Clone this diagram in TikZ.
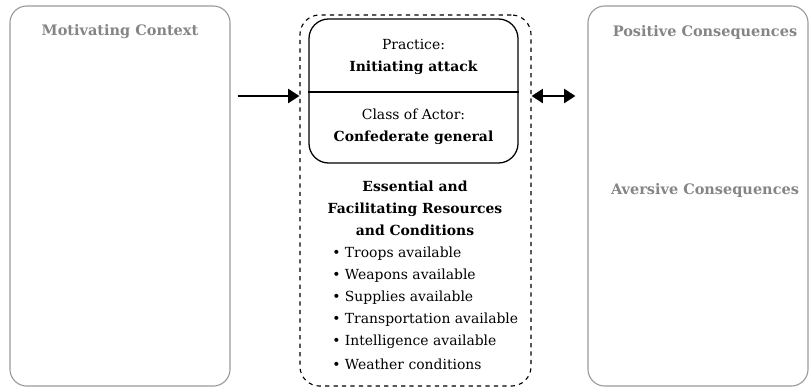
\documentclass[tikz,border=0pt]{standalone}
\usepackage{fontspec}
\setmainfont{DejaVu Serif}
\usepackage{xcolor}
\usetikzlibrary{arrows.meta,calc}
\definecolor{boxgray}{HTML}{9A9A9A}
\definecolor{titlegray}{HTML}{858585}
\tikzset{
  sidebox/.style={draw=boxgray, line width=0.8pt, rounded corners=12pt, minimum width=5.5cm, minimum height=9.5cm},
  sidetitle/.style={text=titlegray, font=\fontsize{10.3}{12}\selectfont\bfseries},
  flow/.style={line width=1.4pt, -{Triangle[length=8pt,width=10pt]}},
  both/.style={line width=1.4pt, {Triangle[length=8pt,width=10pt]}-{Triangle[length=8pt,width=10pt]}},
  body/.style={font=\fontsize{9.9}{15.6}\selectfont}
}
\begin{document}
\begin{tikzpicture}[x=0.025cm, y=-0.025cm]
\useasboundingbox (0,0) rectangle (811,391);
% side boxes
\node[sidebox] (context) at (120,196) {};
\node[sidebox] (conseq) at (698,196) {};
\node[sidetitle] (ctxtitle) at (120,32) {Motivating Context};
\node[sidetitle] (postitle) at (705,32) {Positive Consequences};
\node[sidetitle] (avetitle) at (705,190) {Aversive Consequences};
% middle frame
\node[draw, dashed, line width=0.8pt, rounded corners=14pt, minimum width=5.775cm, minimum height=9.275cm] (frame) at (415.5,200.5) {};
\node[draw, line width=0.9pt, rounded corners=14pt, minimum width=5.225cm, minimum height=3.6cm] (actor) at (413.5,91) {};
\coordinate (split) at (0,92);
\draw[line width=0.9pt] (actor.west |- split) -- (actor.east |- split);
\node[body, align=center] (practice) at (413.5,57) {Practice:\\\textbf{Initiating attack}};
\node[body, align=center] (classact) at (413.5,127) {Class of Actor:\\\textbf{Confederate general}};
\node[body, align=center, font=\fontsize{9.9}{15.6}\selectfont\bfseries] (resources) at (415,208) {Essential and\\Facilitating Resources\\and Conditions};
\foreach \item [count=\i] in {Troops available, Weapons available, Supplies available, Transportation available, Intelligence available, Weather conditions}
  \node[body, anchor=west, inner sep=0pt] (res\i) at (332,232+22*\i) {•\ \item};
% connectors
\coordinate (midline) at (0,96);
\draw[flow] ([xshift=0.175cm]context.east |- midline) -- (frame.west |- midline);
\draw[both] (frame.east |- midline) -- ([xshift=-0.3cm]conseq.west |- midline);
\end{tikzpicture}
\end{document}
